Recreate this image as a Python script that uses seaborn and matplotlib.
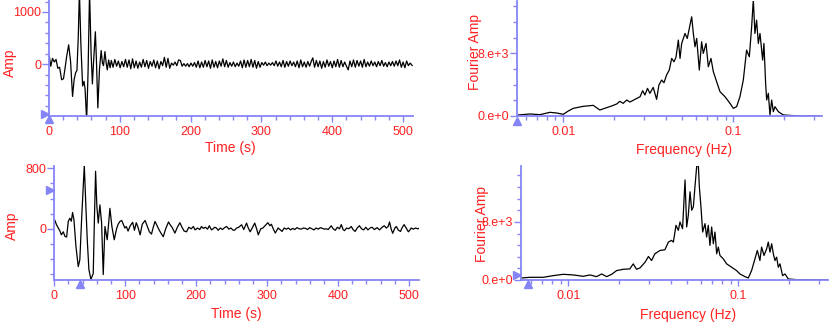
import numpy as np
import pandas as pd
import matplotlib
matplotlib.use("Agg")
import matplotlib.pyplot as plt
import seaborn as sns
from matplotlib.ticker import FixedLocator, MultipleLocator, NullFormatter, FixedFormatter

# ---------------- data ----------------
# top trace: time (s) and amplitude
top_time = [0.5, 2.5, 5, 7.5, 10, 12.5, 15, 17.9, 20.5, 23, 25, 27.8, 30.5, 33.3, 35.5, 37.5, 39.5,
            41.3, 43, 45, 47.5, 49.5, 51, 53.2, 55.2, 57.3, 59.5, 61.3, 63, 65.5, 67, 69, 71.3, 73.7,
            75.5, 77, 79, 80.7, 82.3, 84.3, 86.3,
            88, 90.5, 93, 95.5, 98, 100.5, 103, 105.5, 108, 110.5, 113, 115.5, 118, 120.5, 123, 125.5,
            128, 130.5, 133, 135.5, 138, 140.5, 143, 145.5, 148, 150.5, 153, 155.5, 158, 160.5, 163,
            165.5, 168, 170.5, 173, 175.5, 178, 180.5, 183, 185.5, 188, 190.5, 193, 195.5, 198, 200.5,
            203, 205.5, 208, 210.5, 213, 215.5, 218, 220.5, 223, 225.5, 228, 230.5, 233, 235.5, 238,
            240.5, 243, 245.5, 248, 250.5, 253, 255.5, 258, 260.5, 263, 265.5, 268, 270.5, 273, 275.5,
            278, 280.5, 283, 285.5, 288, 290.5, 293, 295.5, 298, 300.5, 303, 305.5, 308, 310.5, 313,
            315.5, 318, 320.5, 323, 325.5, 328, 330.5, 333, 335.5, 338, 340.5, 343, 345.5, 348, 350.5,
            353, 355.5, 358, 360.5, 363, 365.5, 368, 370.5, 372.5, 375, 377.5, 380, 382.5, 385, 387.5,
            390, 392.5, 395, 397.5, 400, 402.5, 405, 407.5, 410, 412.5, 415, 417.5, 420, 422.5, 425,
            427.5, 430, 432.5, 435, 437.5, 440, 442.5, 445, 447.5, 450, 452.5, 455, 457.5, 460, 462.5,
            465, 467.5, 470, 472.5, 475, 477.5, 480, 482.5, 485, 487.5, 490, 492.5, 495, 497.5, 500,
            502.5, 505, 507.5, 510, 513]
top_amp = [150, -40, 110, 40, 90, -80, -60, -300, -280, -50, 150, 370, 50, -620, -300, -170, -120,
           500, 1400, 400, -420, -330, -480, -1080, -150, 1400, 200, -380, 50, 620, 80, -840, -100, 260,
           20, -30, 240, 30, -110, 80, -70,
           70, -60, 90, -40, 60, -70, 50, -50, 90, -60, 80, -90, 100, -70, 60, -80,
           40, -60, 90, -50, 70, -80, 50, -40, 80, -70, 60, -90, 50, -30, 130,
           -60, 110, -80, 20, -20, 40, -30, 80, 70, -40, 10, -40, 10, -50, 20,
           -40, 30, -60, 60, -70, 40, -60, 70, -50, 60, -80, 80, -60, 50, -70,
           60, -40, 100, -50, 70, -60, 30, -40, 40, -50, 20, -40, 60, -70, 80,
           -60, 70, -50, 90, -60, 70, -80, 50, -60, 30, -20, 40, -30, 20, -20,
           30, -30, 60, -40, 40, -50, 70, -60, 50, -40, 60, -30, 40, -50, 60,
           -70, 80, -50, 40, -60, 50, -40, 60, 120, -60, 70, -50, 60, -80, 50,
           -60, 80, -40, 50, -70, 60, -50, 90, -60, 70, -50, 40, -40, -110, 60,
           -50, 80, -60, 70, -40, 60, -60, 90, -50, 40, -40, 60, -30, 40, -50,
           50, -30, 70, -40, 30, -50, 40, -30, 50, -40, 60, -30, 80, -60, 40,
           -70, 60, -30, 20, -30]

# bottom trace
bot_time = [0.5, 3.3, 5.6, 8, 10, 12.7, 15, 17.4, 19.7, 22, 24, 25.8, 27.7, 30.5, 33.8, 36, 38.5,
            40.5, 42.3, 44.5, 46.5, 48.8, 51.6, 54.9, 56.5, 58.2, 60, 62, 64.3, 66.7, 69, 71.4, 74.6,
            78.4, 81.2, 84.5, 87.8,
            90, 92.5, 95, 99.5, 101.5, 104, 107, 110.5, 113, 115.5, 118, 121, 124, 128, 131.5, 134,
            137, 139.5, 142, 145, 148, 150.5, 153.6, 157, 161, 163.5, 166, 170, 173.5, 177, 180, 183,
            186.4, 189.5, 193, 196, 198.5, 202, 205, 207.5, 210, 213, 216, 218.5, 221.5, 224, 226,
            228.6, 231, 234, 237, 240, 243, 246, 249, 251.5, 254, 257, 260, 264, 267, 271, 273, 276,
            279, 282.5, 285.5, 287.5, 291, 294, 297, 301, 304, 306, 309, 311.5, 315.4, 318, 321, 324,
            327, 330, 333, 336, 339, 342, 345, 348, 351, 354, 357, 360, 363, 366, 369, 372, 375, 378,
            381, 383.5, 386, 390.4, 393, 396, 399, 402, 404.5, 407, 409, 412, 415, 418.6, 421, 424,
            427, 430, 433, 436, 439, 442, 445, 448, 451, 455, 458.4, 462, 465, 468, 470.5, 472.5, 475,
            477, 480, 482, 485, 488, 490, 493, 496, 499, 501, 503, 506, 509, 512, 514]
bot_amp = [118, 50, 10, -30, -80, -40, -100, -110, 97, 140, 100, 215, 120, -230, -500, -410, 120,
           500, 840, 300, -150, -540, -670, -590, 100, 760, 300, 75, 316, 75, -605, 30, -145,
           270, 30, -145, 0,
           60, 97, 110, 10, 30, -30, 40, 85, -20, 80, 20, -80, 60, 110, 20, -40,
           -70, 20, 97, 40, -20, -60, -105, 0, 90, 50, 20, -57, 20, 80, 20, -30,
           -40, 20, 0, 30, -15, 10, -10, 30, 5, 20, -5, 40, -15, 0, 20,
           10, -20, 10, -10, 15, 30, -5, 10, -15, -20, 10, 20, 53, -10, 75, 20, -40,
           10, 75, -10, -80, 0, 10, 40, 80, 40, 60, -10, -57, 10, -10, -35, 10,
           -5, 10, -15, 5, -10, 15, 0, -5, 10, 5, -10, 15, 0, -15, 10, -5, 15, 5,
           -5, 0, -10, 40, 0, -20, 20, 0, 55, -10, -25, 10, 0, 30, -10, -35,
           10, 40, 0, -15, 20, -15, 10, 20, -10, 15, -15, 20, 40, 10, 30, 90, -10,
           -60, 10, 30, -20, -35, 10, 55, 10, -40, -20, 10, -5, 10, 0, 5]

# top spectrum: frequency (Hz) and Fourier amplitude
top_freq = [0.00543, 0.00637, 0.00729, 0.00835, 0.00914, 0.0100, 0.0107, 0.01145, 0.0131, 0.0150,
            0.0164, 0.0180, 0.01924, 0.0206, 0.0215, 0.0225, 0.0236, 0.0247, 0.0264, 0.0283, 0.0293,
            0.0302, 0.0313, 0.0323, 0.0338, 0.0354, 0.0365, 0.0379, 0.0391, 0.0405, 0.0420, 0.0434,
            0.0448, 0.0460, 0.0475, 0.0486, 0.0497, 0.0520, 0.0536, 0.0556, 0.0569, 0.0582, 0.0595,
            0.0609, 0.0631, 0.0651, 0.0666, 0.0691, 0.0713, 0.0739, 0.0763, 0.0798, 0.0835, 0.0893,
            0.0956, 0.1000, 0.1046, 0.1094, 0.1145, 0.1197, 0.1242, 0.1282, 0.1311, 0.1340, 0.1371,
            0.1403, 0.1435, 0.1488, 0.1514, 0.1549, 0.1571, 0.1607, 0.1643, 0.1681, 0.1719, 0.1758,
            0.1840, 0.1968, 0.2466, 0.3236]
top_famp = [128, 255, 170, 468, 383, 213, 638, 979, 1234, 1362,
            766, 1064, 1277, 1532, 1872, 1617, 2042, 1787, 2128, 2468, 3234,
            2681, 3532, 2893, 3659, 2128, 3957, 4595, 4255, 5234, 5872, 7361,
            6936, 7489, 9701, 7361, 9276, 10552, 9914, 11616, 12680, 10552, 8850,
            9914, 5872, 9489, 8000, 9276, 6297, 7361, 5659, 4383, 3106, 2468,
            1617, 979, 1191, 2468, 4595, 8425, 7574, 11403, 14900, 10552, 12254,
            9276, 10552, 7148, 9276, 4170, 2042, 2893, 128, 2042, 553, 1191,
            553, 128, 0, 0]

# bottom spectrum
bot_freq = [0.00531, 0.00595, 0.00713, 0.00816, 0.00935, 0.0107, 0.01225, 0.01341, 0.01468, 0.01571,
            0.01681, 0.0180, 0.01924, 0.0211, 0.0230, 0.0241, 0.0252, 0.0264, 0.0283, 0.0296, 0.0309,
            0.0323, 0.0346, 0.0370, 0.0388, 0.0405, 0.0415, 0.0430, 0.0444, 0.0454, 0.0470, 0.0486,
            0.0497, 0.0508, 0.0520, 0.0532, 0.0544, 0.0556, 0.0569, 0.0582, 0.0590, 0.0603, 0.0617,
            0.0637, 0.0651, 0.0666, 0.0681, 0.0697, 0.0713, 0.0729, 0.0746, 0.0763, 0.0780, 0.0816,
            0.0854, 0.0914, 0.0977, 0.1023, 0.1094, 0.1145, 0.1197, 0.1253, 0.1294, 0.1340, 0.1371,
            0.1416, 0.1468, 0.1501, 0.1536, 0.1571, 0.1607, 0.1643, 0.1681, 0.1719, 0.1758, 0.1822,
            0.1882, 0.1968, 0.2203, 0.3380]
bot_famp = [277, 370, 370, 600, 785, 693, 508, 693, 462, 832,
            462, 785, 1294, 1478, 1525, 2218, 1478, 1663, 2449, 3234, 2680,
            3604, 4066, 4158, 5221, 5452, 5221, 7531, 6838, 7993, 7069, 13768,
            7300, 8917, 12151, 9610, 10072, 12844, 15616, 15847, 12844, 10072, 6607,
            7762, 5914, 7531, 4759, 7300, 4990, 6607, 3604, 4528, 3373, 2911,
            2218, 1756, 1294, 832, 462, 277, 1294, 2911, 4066, 2680, 4528,
            3373, 4297, 5221, 3835, 4990, 3604, 2680, 3142, 1756, 2218, 600,
            832, 139, 46, 0]

time_ticks = [0, 100, 200, 300, 400, 500]
freq_ticks = [0.01, 0.1]
freq_ticklabels = ["0.01", "0.1"]
famp_ticks = [0, 8000]
famp_ticklabels = ["0.e+0", "8.e+3"]

# ---------------- styling ----------------
sns.set_style("ticks")
plt.rcParams["font.family"] = ["Liberation Sans", "DejaVu Sans"]

BLUE = "#8585f7"
RED = "#ff2020"

fig = plt.figure(figsize=(8.3, 3.25), dpi=100)

ax_tl = fig.add_axes([0.0590, 0.6431, 0.4386, 0.3569])
ax_bl = fig.add_axes([0.0654, 0.1385, 0.4394, 0.3508])
ax_tr = fig.add_axes([0.6225, 0.6431, 0.3675, 0.3538])
ax_br = fig.add_axes([0.6277, 0.1385, 0.3699, 0.3508])


def style(ax):
    ax.set_facecolor("white")
    for s in ["top", "right"]:
        ax.spines[s].set_visible(False)
    for s in ["left", "bottom"]:
        ax.spines[s].set_color(BLUE)
        ax.spines[s].set_linewidth(1.3)
    ax.tick_params(which="both", colors=BLUE, labelcolor=RED, labelsize=9, direction="out", width=1.0)
    ax.tick_params(axis="y", which="major", length=5, pad=0.5)
    ax.tick_params(axis="y", which="minor", length=3)
    ax.tick_params(axis="x", which="major", length=4, pad=3)
    ax.tick_params(axis="x", which="minor", length=3)


def markers(ax, ytri, xtri):
    ax.plot([ytri[0]], [ytri[1]], marker=">", color=BLUE, markersize=5.5, transform=ax.transAxes,
            clip_on=False, linestyle="none")
    ax.plot([xtri[0]], [xtri[1]], marker="^", color=BLUE, markersize=5.5, transform=ax.transAxes,
            clip_on=False, linestyle="none")


# time series
for ax, t, a, ylim, ymaj, lab_y, lab_x, ytri, xtri in [
    (ax_tl, top_time, top_amp, (-995, 1230), [0, 1000], (-0.1085, 0.461), (0.497, -0.276),
     (-0.011, 0.017), (0.0014, -0.022)),
    (ax_bl, bot_time, bot_amp, (-677, 830), [0, 800], (-0.116, 0.478), (0.498, -0.298),
     (-0.0104, 0.785), (0.0705, -0.035)),
]:
    df = pd.DataFrame({"t": t, "a": a})
    sns.lineplot(data=df, x="t", y="a", ax=ax, color="black", linewidth=0.9, errorbar=None)
    ax.set_xlim(0, 514)
    ax.set_ylim(*ylim)
    style(ax)
    ax.xaxis.set_major_locator(FixedLocator(time_ticks))
    ax.xaxis.set_minor_locator(MultipleLocator(20))
    ax.yaxis.set_major_locator(FixedLocator(ymaj))
    ax.yaxis.set_minor_locator(MultipleLocator(200))
    ax.set_xlabel("Time (s)", color=RED, fontsize=10)
    ax.set_ylabel("Amp", color=RED, fontsize=10)
    ax.xaxis.label.set(va="center", ha="center")
    ax.yaxis.label.set(va="center", ha="center")
    ax.xaxis.set_label_coords(*lab_x)
    ax.yaxis.set_label_coords(*lab_y)
    markers(ax, ytri, xtri)

# spectra
for ax, f, a, xlim, ylim, yminor, lab_y, lab_x, ytri, xtri in [
    (ax_tr, top_freq, top_famp, (0.00532, 0.331), (0, 14700), 2000, (-0.137, 0.557), (0.549, -0.296),
     None, (0.0, -0.041)),
    (ax_br, bot_freq, bot_famp, (0.00527, 0.337), (0, 15700), 1600, (-0.127, 0.49), (0.544, -0.307),
     (-0.0114, 0.048), (0.0238, -0.039)),
]:
    df = pd.DataFrame({"f": f, "a": a})
    sns.lineplot(data=df, x="f", y="a", ax=ax, color="black", linewidth=0.9, errorbar=None)
    ax.set_xscale("log")
    ax.set_xlim(*xlim)
    ax.set_ylim(*ylim)
    style(ax)
    ax.xaxis.set_major_locator(FixedLocator(freq_ticks))
    ax.xaxis.set_major_formatter(FixedFormatter(freq_ticklabels))
    minors = [m * 10.0 ** e for e in (-3, -2, -1) for m in range(2, 10)]
    ax.xaxis.set_minor_locator(FixedLocator(minors))
    ax.xaxis.set_minor_formatter(NullFormatter())
    ax.yaxis.set_major_locator(FixedLocator(famp_ticks))
    ax.yaxis.set_major_formatter(FixedFormatter(famp_ticklabels))
    ax.yaxis.set_minor_locator(MultipleLocator(yminor))
    ax.set_xlabel("Frequency (Hz)", color=RED, fontsize=10)
    ax.set_ylabel("Fourier Amp", color=RED, fontsize=10)
    ax.xaxis.label.set(va="center", ha="center")
    ax.yaxis.label.set(va="center", ha="center")
    ax.xaxis.set_label_coords(*lab_x)
    ax.yaxis.set_label_coords(*lab_y)
    if ytri is not None:
        ax.plot([ytri[0]], [ytri[1]], marker=">", color=BLUE, markersize=5.5, transform=ax.transAxes,
                clip_on=False, linestyle="none")
    ax.plot([xtri[0]], [xtri[1]], marker="^", color=BLUE, markersize=5.5, transform=ax.transAxes,
            clip_on=False, linestyle="none")

fig.savefig("out.png", dpi=100, facecolor="white")
